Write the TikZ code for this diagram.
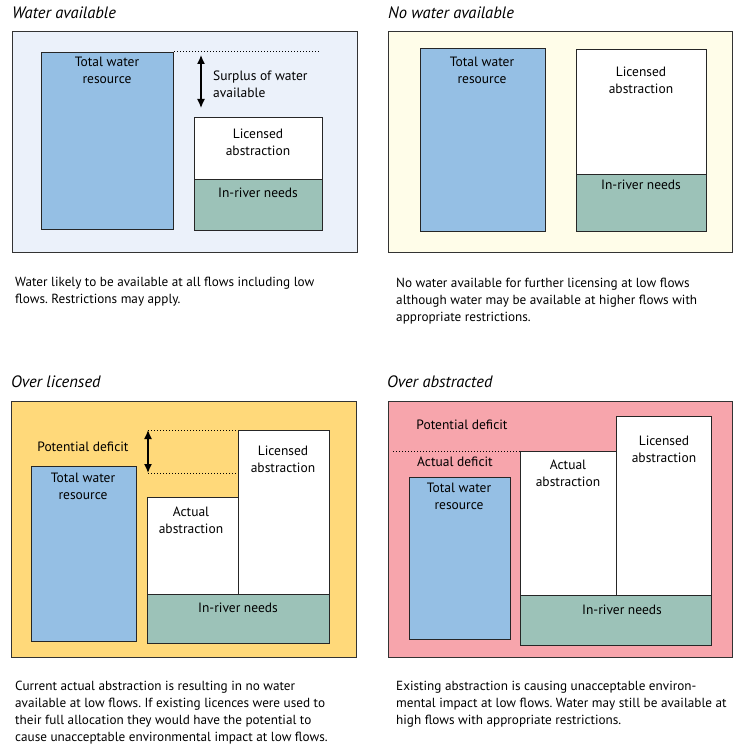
\documentclass[tikz,border=0pt]{standalone}
\usepackage{fontspec}
\setmainfont{PT Sans}
\frenchspacing
\usetikzlibrary{arrows.meta}
\definecolor{availbg}{HTML}{EBF1FA}
\definecolor{nonebg}{HTML}{FFFDE9}
\definecolor{overlicbg}{HTML}{FFD97A}
\definecolor{overabsbg}{HTML}{F7A5AC}
\definecolor{resource}{HTML}{95BFE4}
\definecolor{needs}{HTML}{9CC2B8}
\tikzset{panel/.style={draw=black!80,line width=1.1pt,anchor=north west,inner sep=0pt}}
\tikzset{bar/.style={draw=black!85,line width=1pt,anchor=north west,inner sep=0pt}}
\tikzset{lbl/.style={font=\fontsize{13.5}{17}\selectfont,align=center,inner sep=0pt}}
\tikzset{ttl/.style={font=\fontsize{16.5}{18}\selectfont\itshape,anchor=base west,inner sep=0pt}}
\tikzset{note/.style={font=\fontsize{13.2}{17}\selectfont,align=left,anchor=north west,inner sep=0pt}}
\tikzset{dots/.style={dotted,line width=1pt}}
\tikzset{span/.style={{Latex[length=9pt,width=8pt]}-{Latex[length=9pt,width=8pt]},line width=1.3pt}}
\begin{document}
\begin{tikzpicture}[x=1pt,y=-1pt]
  \useasboundingbox[fill=white] (0,0) rectangle (733,751);
  % water available
  \node[ttl] (t1) at (12,19) {Water available};
  \node[panel,fill=availbg,minimum width=345pt,minimum height=221pt] (p1) at (12,31) {};
  \node[bar,fill=resource,minimum width=132pt,minimum height=177pt] (tw1) at (41,52) {};
  \node[bar,fill=white,minimum width=128pt,minimum height=62pt] (la1) at (194,117) {};
  \node[bar,fill=needs,minimum width=128pt,minimum height=51pt] (ir1) at (194,179) {};
  \coordinate (d1) at (320,52);
  \coordinate (a1) at (201,55);
  \coordinate (b1) at (201,108);
  \draw[dots] (tw1.north east) -- (d1);
  \draw[span] (a1) -- (b1);
  \node[lbl] (tw1t) at (107,70) {Total water\\resource};
  \node[lbl,align=left,anchor=west] (sp1) at (213,84) {Surplus of water\\available};
  \node[lbl] (la1t) at (258,142) {Licensed\\abstraction};
  \node[lbl] (ir1t) at (258,193) {In-river needs};
  \node[note] (n1) at (15,277) {Water likely to be available at all flows including low\\flows. Restrictions may apply.};
  % no water available
  \node[ttl] (t2) at (388,19) {No water available};
  \node[panel,fill=nonebg,minimum width=344pt,minimum height=221pt] (p2) at (388,31) {};
  \node[bar,fill=resource,minimum width=125pt,minimum height=183pt] (tw2) at (420,48) {};
  \node[bar,fill=white,minimum width=130pt,minimum height=125pt] (la2) at (576,49) {};
  \node[bar,fill=needs,minimum width=130pt,minimum height=57pt] (ir2) at (576,174) {};
  \node[lbl] (tw2t) at (482,70) {Total water\\resource};
  \node[lbl] (la2t) at (641,80) {Licensed\\abstraction};
  \node[lbl] (ir2t) at (641,185) {In-river needs};
  \node[note] (n2) at (396,278) {No water available for further licensing at low flows\\although water may be available at higher flows with\\appropriate restrictions.};
  % over licensed
  \node[ttl] (t3) at (11,387) {Over licensed};
  \node[panel,fill=overlicbg,minimum width=345pt,minimum height=256pt] (p3) at (11,401) {};
  \node[bar,fill=resource,minimum width=105pt,minimum height=175pt] (tw3) at (31,466) {};
  \node[bar,fill=white,minimum width=91pt,minimum height=97pt] (aa3) at (147,497) {};
  \node[bar,fill=white,minimum width=91pt,minimum height=164pt] (la3) at (238,430) {};
  \node[bar,fill=needs,minimum width=182pt,minimum height=49pt] (ir3) at (147,594) {};
  \coordinate (a3) at (148,430);
  \coordinate (b3) at (148,473);
  \coordinate (e3) at (238,473);
  \draw[dots] (a3) -- (la3.north west);
  \draw[dots] (b3) -- (e3);
  \draw[span] (a3) -- (b3);
  \node[lbl] (pd3) at (83,447) {Potential deficit};
  \node[lbl] (tw3t) at (83,486) {Total water\\resource};
  \node[lbl] (aa3t) at (191,520) {Actual\\abstraction};
  \node[lbl] (la3t) at (283,459) {Licensed\\abstraction};
  \node[lbl] (ir3t) at (238,608) {In-river needs};
  \node[note] (n3) at (15,681) {Current actual abstraction is resulting in no water\\available at low flows. If existing licences were used to\\their full allocation they would have the potential to\\cause unacceptable environmental impact at low flows.};
  % over abstracted
  \node[ttl] (t4) at (387,387) {Over abstracted};
  \node[panel,fill=overabsbg,minimum width=344pt,minimum height=256pt] (p4) at (388,401) {};
  \node[bar,fill=resource,minimum width=101pt,minimum height=162pt] (tw4) at (409,477) {};
  \node[bar,fill=white,minimum width=96pt,minimum height=144pt] (aa4) at (520,451) {};
  \node[bar,fill=white,minimum width=95pt,minimum height=179pt] (la4) at (616,416) {};
  \node[bar,fill=needs,minimum width=191pt,minimum height=50pt] (ir4) at (520,595) {};
  \coordinate (d4) at (393,451);
  \draw[dots] (d4) -- (aa4.north west);
  \node[lbl] (pd4) at (462,425) {Potential deficit};
  \node[lbl] (ad4) at (455,462) {Actual deficit};
  \node[lbl] (tw4t) at (459,496) {Total water\\resource};
  \node[lbl] (aa4t) at (568,473) {Actual\\abstraction};
  \node[lbl] (la4t) at (664,449) {Licensed\\abstraction};
  \node[lbl] (ir4t) at (622,610) {In-river needs};
  \node[note] (n4) at (396,681) {Existing abstraction is causing unacceptable environ-\\mental impact at low flows. Water may still be available at\\high flows with appropriate restrictions.};
\end{tikzpicture}
\end{document}
